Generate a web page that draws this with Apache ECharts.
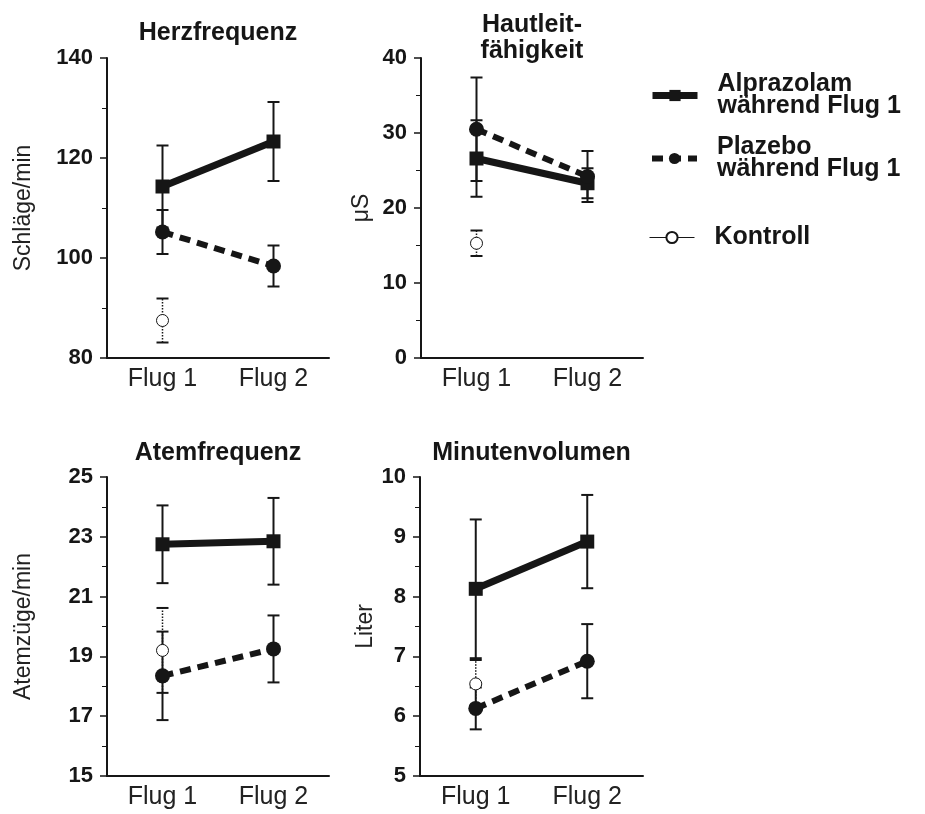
<!DOCTYPE html>
<html>
<head>
<meta charset="utf-8">
<script src="https://cdn.jsdelivr.net/npm/echarts@6/dist/echarts.min.js"></script>
<style>
html,body{margin:0;padding:0;background:#fff;}
#chart{width:925px;height:814px;}
</style>
</head>
<body>
<div id="chart"></div>
<script>
// ---------- data ----------
const categories = ['Flug 1', 'Flug 2'];
const panelTitles = ['Herzfrequenz', 'Hautleit-\nfähigkeit', 'Atemfrequenz', 'Minutenvolumen'];
const yNames = ['Schläge/min', 'μS', 'Atemzüge/min', 'Liter'];
const yMin = [80, 0, 15, 5];
const yMax = [140, 40, 25, 10];
const yInterval = [20, 10, 2, 1];
const seriesNames = ['Alprazolam', 'Plazebo', 'Kontroll'];
const legendLabels = ['Alprazolam\nwährend Flug 1', 'Plazebo\nwährend Flug 1', 'Kontroll'];

// Herzfrequenz
const herzAlp = [114.3, 123.3];
const herzAlpErr = [8.2, 7.9];
const herzPla = [105.2, 98.4];
const herzPlaErr = [4.4, 4.1];
const herzKon = [87.5];
const herzKonErr = [4.4];
// Hautleitfähigkeit
const hautAlp = [26.6, 23.3];
const hautAlpErr = [5.1, 2.0];
const hautPla = [30.5, 24.2];
const hautPlaErr = [6.9, 3.4];
const hautKon = [15.3];
const hautKonErr = [1.7];
// Atemfrequenz
const atemAlp = [22.75, 22.85];
const atemAlpErr = [1.3, 1.45];
const atemPla = [18.35, 19.25];
const atemPlaErr = [1.48, 1.12];
const atemKon = [19.2];
const atemKonErr = [1.42];
// Minutenvolumen
const minAlp = [8.13, 8.92];
const minAlpErr = [1.16, 0.78];
const minPla = [6.13, 6.92];
const minPlaErr = [0.35, 0.62];
const minKon = [6.54];
const minKonErr = [0.4];

const panels = [
  {alp: herzAlp, alpErr: herzAlpErr, pla: herzPla, plaErr: herzPlaErr, kon: herzKon, konErr: herzKonErr},
  {alp: hautAlp, alpErr: hautAlpErr, pla: hautPla, plaErr: hautPlaErr, kon: hautKon, konErr: hautKonErr},
  {alp: atemAlp, alpErr: atemAlpErr, pla: atemPla, plaErr: atemPlaErr, kon: atemKon, konErr: atemKonErr},
  {alp: minAlp, alpErr: minAlpErr, pla: minPla, plaErr: minPlaErr, kon: minKon, konErr: minKonErr}
];

// ---------- layout ----------
const INK = '#161616';
const grids = [
  {left: 107, top: 58, width: 222, height: 300},
  {left: 421, top: 58, width: 222, height: 300},
  {left: 107, top: 477, width: 222, height: 299},
  {left: 420, top: 477, width: 223, height: 299}
];
const nameGaps = [72, 48, 72, 39];
const titleY = [[33], [25, 51], [453], [453]];
const FONT = '"Liberation Sans", Arial, Helvetica, sans-serif';

function errData(means, errs) {
  return means.map((m, i) => [i, m - errs[i], m + errs[i]]);
}

function errRender(dotted) {
  return function (params, api) {
    const lo = api.coord([api.value(0), api.value(1)]);
    const hi = api.coord([api.value(0), api.value(2)]);
    const cw = 6;
    const capStyle = {stroke: INK, lineWidth: 2};
    return {
      type: 'group',
      children: [
        {type: 'line', shape: {x1: lo[0], y1: lo[1], x2: hi[0], y2: hi[1]},
         style: {stroke: INK, lineWidth: dotted ? 1.5 : 2, lineDash: dotted ? [1.5, 1.5] : null}},
        {type: 'line', shape: {x1: lo[0] - cw, y1: lo[1], x2: lo[0] + cw, y2: lo[1]}, style: capStyle},
        {type: 'line', shape: {x1: hi[0] - cw, y1: hi[1], x2: hi[0] + cw, y2: hi[1]}, style: capStyle}
      ]
    };
  };
}

const xAxes = [], yAxes = [], series = [], graphics = [];
grids.forEach((g, i) => {
  xAxes.push({
    type: 'category', gridIndex: i, data: categories, boundaryGap: true,
    axisLine: {lineStyle: {color: INK, width: 2}},
    axisTick: {show: false},
    axisLabel: {color: '#222', fontSize: 25, fontFamily: FONT, margin: 9}
  });
  yAxes.push({
    type: 'value', gridIndex: i, min: yMin[i], max: yMax[i], interval: yInterval[i],
    name: yNames[i], nameLocation: 'middle', nameGap: nameGaps[i], nameRotate: 90,
    nameTextStyle: {color: '#222', fontSize: 23, fontFamily: FONT},
    axisLine: {show: true, lineStyle: {color: INK, width: 2}},
    axisTick: {show: true, length: 7, lineStyle: {color: INK, width: 1.5}},
    minorTick: {show: true, splitNumber: 2, length: 5, lineStyle: {color: INK, width: 1}},
    splitLine: {show: false},
    axisLabel: {color: INK, fontSize: 22, fontWeight: 'bold', fontFamily: FONT, margin: 14}
  });
  const p = panels[i];
  // error bars
  series.push({type: 'custom', xAxisIndex: i, yAxisIndex: i, data: errData(p.kon, p.konErr),
    renderItem: errRender(true), encode: {x: 0, y: [1, 2]}, z: 2, silent: true});
  series.push({type: 'custom', xAxisIndex: i, yAxisIndex: i, data: errData(p.alp, p.alpErr),
    renderItem: errRender(false), encode: {x: 0, y: [1, 2]}, z: 2, silent: true});
  series.push({type: 'custom', xAxisIndex: i, yAxisIndex: i, data: errData(p.pla, p.plaErr),
    renderItem: errRender(false), encode: {x: 0, y: [1, 2]}, z: 2, silent: true});
  // lines
  series.push({name: seriesNames[0], type: 'line', xAxisIndex: i, yAxisIndex: i, data: p.alp,
    symbol: 'rect', symbolSize: 14, itemStyle: {color: INK},
    lineStyle: {color: INK, width: 7}, z: 4, animation: false});
  series.push({name: seriesNames[1], type: 'line', xAxisIndex: i, yAxisIndex: i, data: p.pla,
    symbol: 'circle', symbolSize: 15, itemStyle: {color: INK},
    lineStyle: {color: INK, width: 6, type: [11, 7]}, z: 4, animation: false});
  series.push({name: seriesNames[2], type: 'line', xAxisIndex: i, yAxisIndex: i, data: p.kon,
    symbol: 'circle', symbolSize: 12, itemStyle: {color: '#fff', borderColor: INK, borderWidth: 1},
    lineStyle: {color: INK, width: 1}, z: 3, animation: false});
  // title
  const lines = panelTitles[i].split('\n');
  lines.forEach((t, k) => {
    graphics.push({type: 'text', x: g.left + g.width / 2, y: titleY[i][k],
      style: {text: t, fill: INK, font: 'bold 25px ' + FONT, textAlign: 'center', textVerticalAlign: 'middle'}});
  });
});

const legendTops = [72, 135, 225];
const legends = seriesNames.map((n, k) => ({
  data: [n], left: 649, top: legendTops[k], orient: 'vertical', padding: 0,
  itemWidth: 45, itemHeight: 14, selectedMode: false,
  formatter: () => legendLabels[k],
  lineStyle: {width: 'inherit'},
  textStyle: {color: INK, fontSize: 25, fontWeight: 'bold', fontFamily: FONT, lineHeight: 22, padding: [0, 0, 0, 15]}
}));

const chart = echarts.init(document.getElementById('chart'), null, {renderer: 'canvas'});
chart.setOption({
  backgroundColor: '#fff',
  animation: false,
  grid: grids,
  xAxis: xAxes,
  yAxis: yAxes,
  legend: legends,
  series: series,
  graphic: graphics
});
</script>
</body>
</html>
